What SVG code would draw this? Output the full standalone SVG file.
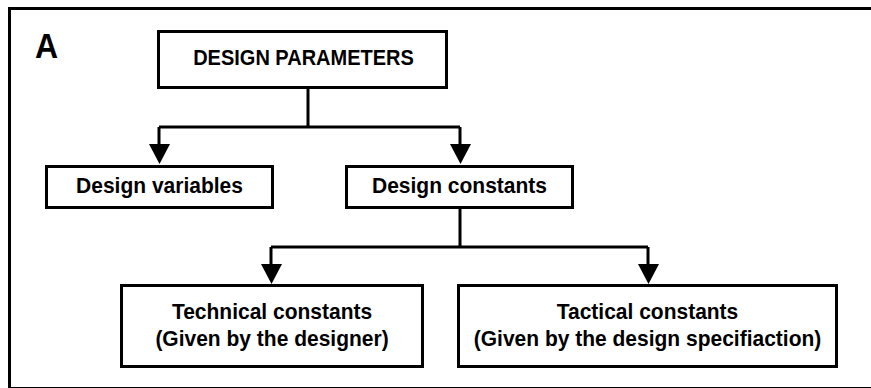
<svg xmlns="http://www.w3.org/2000/svg" width="871" height="388" viewBox="0 0 871 388">
<style>
.box{fill:#fff;stroke:#000;stroke-width:3}
.t{font-family:"Liberation Sans",Arial,sans-serif;font-weight:bold;fill:#000;text-anchor:middle;font-size:21px}
.c{fill:none;stroke:#000;stroke-width:3}
.ah{fill:#000}
</style>
<rect width="871" height="388" fill="#fff"/>
<rect x="9.5" y="8.5" width="880" height="380" fill="none" stroke="#000" stroke-width="3"/>
<text transform="translate(35,58) scale(1,1.08)" font-family="Liberation Sans,Arial,sans-serif" font-weight="bold" font-size="32">A</text>
<g id="connectors">
<path class="c" d="M308,88 V127 M159,127 H460 M159,127 V146 M460,127 V146"/>
<path class="c" d="M460,208 V247 M271,247 H648 M271,247 V266 M648,247 V266"/>
<polygon class="ah" points="149,144 170,144 159.5,164"/>
<polygon class="ah" points="450,144 471,144 460.5,164"/>
<polygon class="ah" points="261,264 282,264 271.5,284"/>
<polygon class="ah" points="638,264 659,264 648.5,284"/>
</g>
<g id="design-parameters">
<rect class="box" x="158.5" y="31.5" width="288" height="56"/>
<text class="t" transform="translate(303.5,65) scale(1,1.1)" style="font-size:20px">DESIGN PARAMETERS</text>
</g>
<g id="design-variables">
<rect class="box" x="46.5" y="166.5" width="226" height="41"/>
<text class="t" transform="translate(159.5,193) scale(1,1.08)">Design variables</text>
</g>
<g id="design-constants">
<rect class="box" x="346.5" y="166.5" width="226" height="41"/>
<text class="t" transform="translate(459.5,193) scale(1,1.08)">Design constants</text>
</g>
<g id="technical-constants">
<rect class="box" x="121.5" y="285.5" width="301" height="81"/>
<text class="t" transform="translate(272,319) scale(1,1.08)">Technical constants</text>
<text class="t" transform="translate(272,346) scale(1,1.08)">(Given by the designer)</text>
</g>
<g id="tactical-constants">
<rect class="box" x="458.5" y="285.5" width="378" height="81"/>
<text class="t" transform="translate(647.5,319) scale(1,1.08)">Tactical constants</text>
<text class="t" transform="translate(647.5,346) scale(1,1.08)">(Given by the design specifiaction)</text>
</g>
</svg>
